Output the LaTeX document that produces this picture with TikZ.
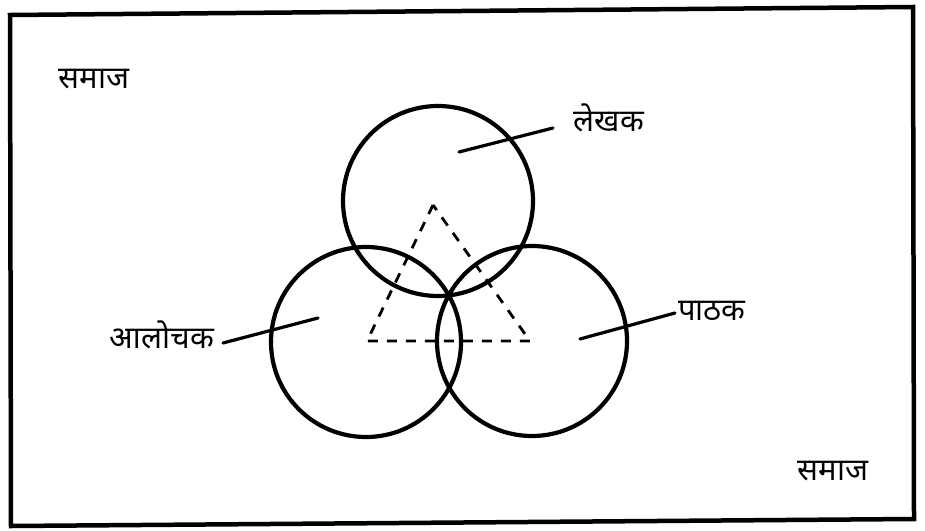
\documentclass[tikz,border=0pt]{standalone}
\usepackage{fontspec}
\newfontfamily\deva[Script=Devanagari]{Noto Sans}
\begin{document}
\begin{tikzpicture}[x=1pt,y=-1pt,
  ring/.style={draw=black,line width=4.2pt,circle,inner sep=0pt,minimum size=190pt},
  lbl/.style={font=\deva\fontsize{31}{36}\selectfont,inner sep=0pt,anchor=center},
  leader/.style={line width=3.2pt,line cap=round},
  tri/.style={line width=2.8pt,dash pattern=on 10pt off 9pt}]
\useasboundingbox (0,0) rectangle (925,530);
% frame
\draw[line width=4.5pt,line join=miter] (10,15) -- (913,7) -- (914,519) -- (11,526) -- cycle;
% circles
\node[ring] (top) at (438,201) {};
\node[ring] (left) at (366,342) {};
\node[ring] (right) at (532,341) {};
% dashed triangle
\coordinate (apex) at (433,205);
\coordinate (bl) at (367,341);
\coordinate (br) at (530,341);
\draw[tri] (apex) -- (bl) -- (br) -- cycle;
% labels
\node[lbl] (s1) at (94,79) {समाज};
\node[lbl] (s2) at (833,471) {समाज};
\node[lbl] (lekh) at (609,118) {लेखक};
\node[lbl] (alo) at (162,335) {आलोचक};
\node[lbl] (path) at (712,311) {पाठक};
% leaders
\coordinate (lekhA) at (459,152);
\coordinate (lekhB) at (553,128);
\coordinate (aloA) at (223,343);
\coordinate (aloB) at (318,318);
\coordinate (pathA) at (580,339);
\coordinate (pathB) at (675,313);
\draw[leader] (lekhA) -- (lekhB);
\draw[leader] (aloA) -- (aloB);
\draw[leader] (pathA) -- (pathB);
\end{tikzpicture}
\end{document}
